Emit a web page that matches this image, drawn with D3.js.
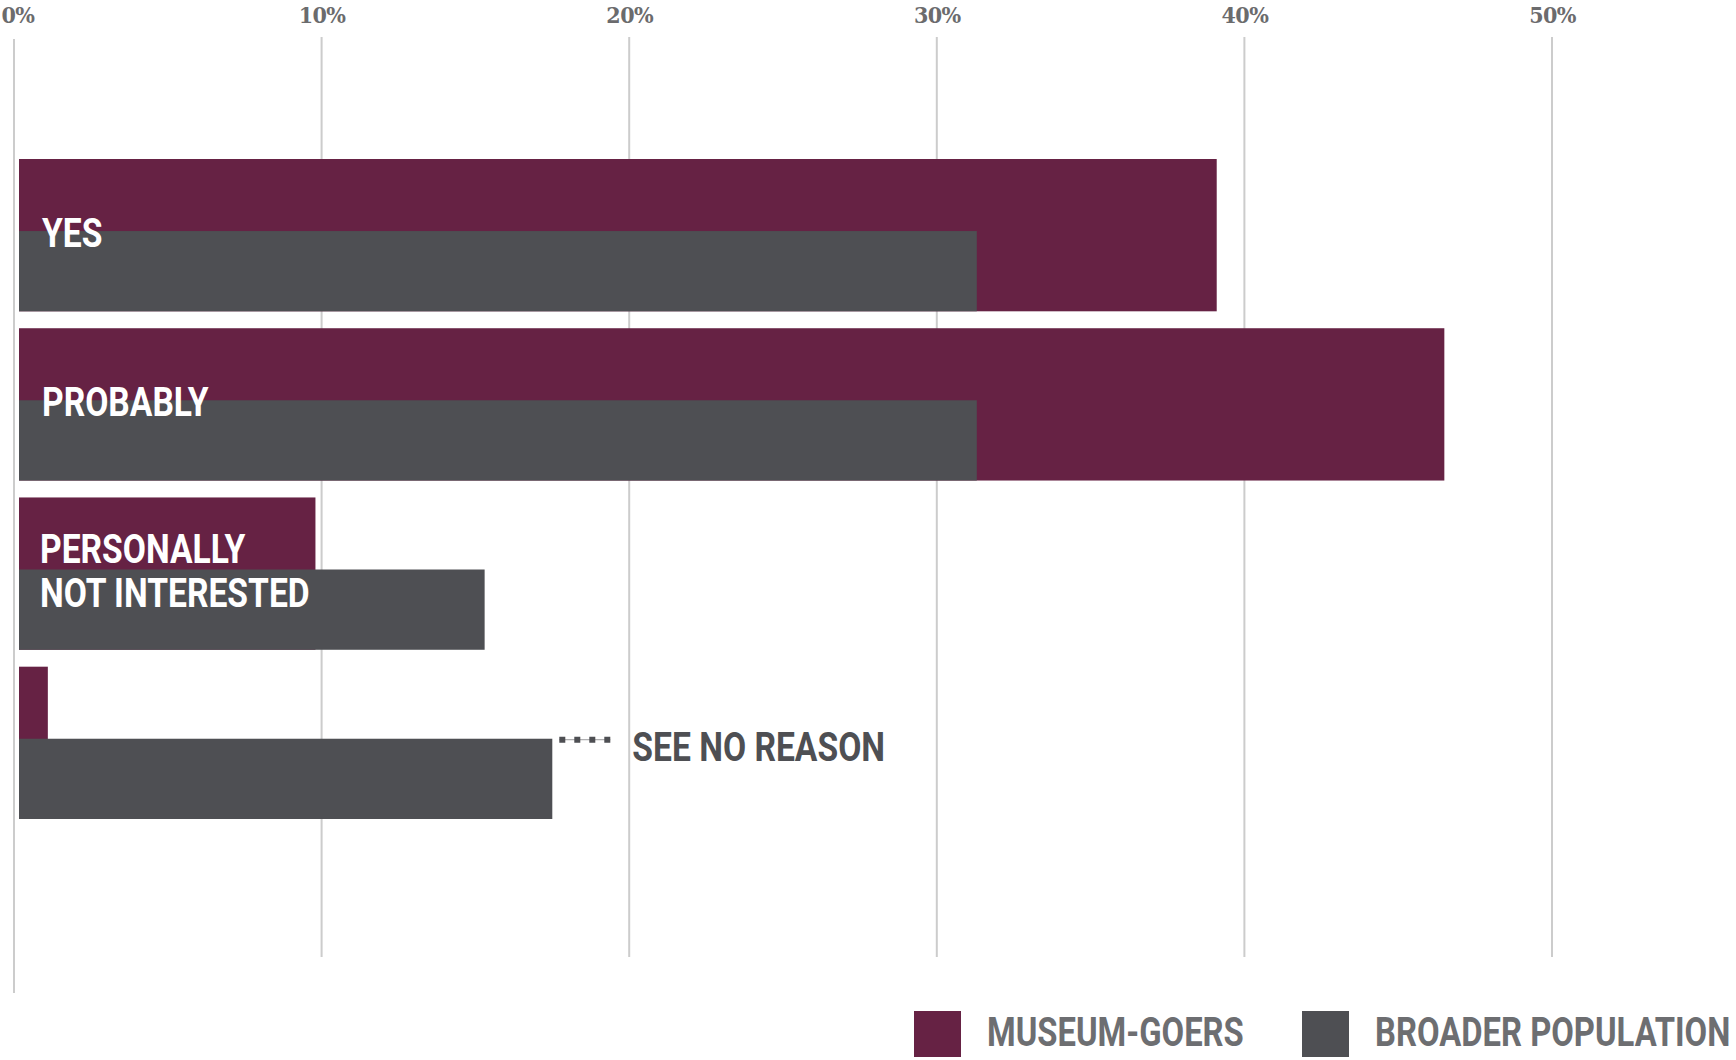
<!DOCTYPE html>
<html>
<head>
<meta charset="utf-8">
<script src="https://cdn.jsdelivr.net/npm/d3@7"></script>
<style>
  html, body { margin: 0; padding: 0; background: #ffffff; }
  svg { display: block; }
</style>
</head>
<body>
<svg id="chart" width="1736" height="1060"></svg>
<script>
// ---- data ----
const categories = ["YES", "PROBABLY", "PERSONALLY\nNOT INTERESTED", "SEE NO REASON"];
const museumGoers = [39.1, 46.5, 9.8, 1.1];
const broaderPopulation = [31.3, 31.3, 15.3, 17.5];
const tickValues = [0, 10, 20, 30, 40, 50];
const tickLabels = ["0%", "10%", "20%", "30%", "40%", "50%"];
const seriesNames = ["MUSEUM-GOERS", "BROADER POPULATION"];
const outsideLabel = [false, false, false, true];

// ---- styles ----
const colMuseum = "#662244";
const colBroad = "#4e4f53";
const colGrid = "#cccccc";
const colTick = "#6b6b6d";
const colLegend = "#6d6e71";
const labelFont = "Roboto, 'Liberation Sans Narrow', sans-serif";
const condense = 0.82;

const svg = d3.select("#chart");

const x = d3.scaleLinear().domain([0, 50]).range([14, 1552]);
const y = d3.scaleBand().domain(categories).range([159, 819]).paddingInner(0.1).paddingOuter(0);
const splitFrac = 0.473;
const barInset = 5;

// gridlines
const grid = svg.append("g");
grid.selectAll("line").data(tickValues).join("line")
  .attr("x1", d => x(d)).attr("x2", d => x(d))
  .attr("y1", d => d === 0 ? 39 : 37)
  .attr("y2", d => d === 0 ? 993 : 957)
  .attr("stroke", colGrid).attr("stroke-width", 2);

// top axis labels
const axis = d3.axisTop(x).tickValues(tickValues).tickFormat((d, i) => tickLabels[i]).tickSize(0).tickPadding(0);
const axG = svg.append("g").attr("transform", "translate(0,23)").call(axis);
axG.select(".domain").remove();
axG.selectAll("text")
  .attr("dy", 0)
  .attr("fill", colTick)
  .style("font-family", "'DejaVu Serif Condensed', 'DejaVu Serif', serif")
  .style("font-weight", "bold")
  .style("font-size", "23px")
  .style("letter-spacing", "-0.6px");
// keep the first label inside the left edge
axG.selectAll(".tick").filter(d => d === 0).select("text")
  .attr("text-anchor", "start")
  .attr("x", -x(0) + 1);

// bars
const rows = categories.map((c, i) => ({ c, m: museumGoers[i], b: broaderPopulation[i], out: outsideLabel[i] }));

svg.append("g").selectAll("rect").data(rows).join("rect")
  .attr("x", x(0) + barInset)
  .attr("y", d => y(d.c))
  .attr("width", d => x(d.m) - x(0) - barInset)
  .attr("height", y.bandwidth())
  .attr("fill", colMuseum);

svg.append("g").selectAll("rect").data(rows).join("rect")
  .attr("x", x(0) + barInset)
  .attr("y", d => y(d.c) + y.bandwidth() * splitFrac)
  .attr("width", d => x(d.b) - x(0) - barInset)
  .attr("height", y.bandwidth() * (1 - splitFrac))
  .attr("fill", colBroad);

// inside labels
const fs = 41;
const capH = fs * 0.711;
const lineH = 44;
rows.filter(d => !d.out).forEach(d => {
  const lines = d.c.split("\n");
  const cy = y(d.c) + y.bandwidth() * splitFrac + 1;
  const firstBase = cy + capH / 2 - (lines.length - 1) * lineH / 2;
  const lx = x(0) + barInset + 23 - (lines.length - 1) * 2;
  const t = svg.append("text")
    .attr("transform", `translate(${lx},${firstBase}) scale(${condense},1)`)
    .attr("fill", "#ffffff")
    .style("font-family", labelFont)
    .style("font-weight", "bold")
    .style("font-size", fs + "px");
  lines.forEach((ln, k) => {
    t.append("tspan").attr("x", 0).attr("y", k * lineH).text(ln);
  });
});

// outside label with dotted leader
rows.filter(d => d.out).forEach(d => {
  const gy = y(d.c) + y.bandwidth() * splitFrac + 1;
  const x0 = x(d.b) + 7;
  svg.append("line")
    .attr("x1", x0).attr("x2", x0 + 51)
    .attr("y1", gy).attr("y2", gy)
    .attr("stroke", "#9a9a9d").attr("stroke-width", 1);
  svg.append("line")
    .attr("x1", x0).attr("x2", x0 + 51)
    .attr("y1", gy).attr("y2", gy)
    .attr("stroke", colBroad).attr("stroke-width", 6)
    .attr("stroke-dasharray", "6,9");
  svg.append("text")
    .attr("transform", `translate(${x0 + 73},${gy + 7 + capH / 2}) scale(${condense},1)`)
    .attr("fill", colBroad)
    .style("font-family", labelFont)
    .style("font-weight", "bold")
    .style("font-size", fs + "px")
    .text(d.c);
});

// legend
const legendX = [914, 1302];
const legendCols = [colMuseum, colBroad];
const lg = svg.append("g");
seriesNames.forEach((name, i) => {
  lg.append("rect")
    .attr("x", legendX[i]).attr("y", 1011)
    .attr("width", 47).attr("height", 46)
    .attr("fill", legendCols[i]);
  lg.append("text")
    .attr("transform", `translate(${legendX[i] + 73},${1046}) scale(${condense},1)`)
    .attr("fill", colLegend)
    .style("font-family", labelFont)
    .style("font-weight", "bold")
    .style("font-size", "40px")
    .text(name);
});
</script>
</body>
</html>
